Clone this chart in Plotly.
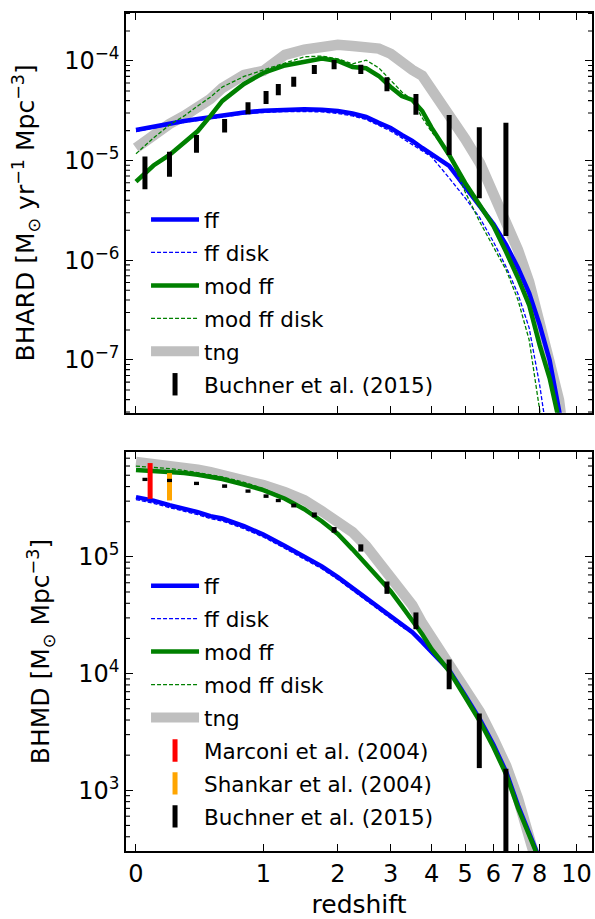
import plotly.graph_objects as go

# ---------------- data ----------------
# Black-hole accretion rate density, M_sun / yr / Mpc^3, versus redshift
z_ff_acc = [0, 0.1, 0.2, 0.3, 0.4, 0.5, 0.6, 0.8, 1.0, 1.25, 1.5, 1.75, 2.0, 2.25, 2.5,
            2.75, 3.0, 3.25, 3.5, 3.75, 4.0, 4.5, 5.0, 5.5, 6.0, 6.5, 7.0, 7.5, 8.0, 8.5,
            9.0, 9.2]
ff_acc = [2.03e-5, 2.20e-5, 2.36e-5, 2.50e-5, 2.62e-5, 2.74e-5, 2.84e-5, 3.04e-5, 3.17e-5,
          3.26e-5, 3.27e-5, 3.24e-5, 3.15e-5, 2.97e-5, 2.74e-5, 2.39e-5, 2.13e-5, 1.81e-5,
          1.58e-5, 1.34e-5, 1.17e-5, 8.85e-6, 5.44e-6, 3.51e-6, 2.31e-6, 1.43e-6, 8.38e-7,
          4.70e-7, 2.25e-7, 1.0e-7, 3.15e-8, 2.0e-8]

z_ffdisk_acc = [0, 0.1, 0.2, 0.3, 0.4, 0.5, 0.6, 0.8, 1.0, 1.25, 1.5, 1.75, 2.0, 2.25, 2.5,
                2.75, 3.0, 3.25, 3.5, 3.75, 4.0, 4.5, 5.0, 5.5, 6.0, 6.5, 7.0, 7.5, 8.0, 8.2,
                8.4]
ffdisk_acc = [1.96e-5, 2.13e-5, 2.28e-5, 2.42e-5, 2.53e-5, 2.65e-5, 2.74e-5, 2.94e-5, 3.04e-5,
              3.11e-5, 3.11e-5, 3.08e-5, 2.97e-5, 2.81e-5, 2.59e-5, 2.25e-5, 1.98e-5, 1.69e-5,
              1.44e-5, 1.25e-5, 1.09e-5, 6.70e-6, 4.22e-6, 2.66e-6, 1.53e-6, 8.57e-7, 4.59e-7,
              2.10e-7, 5.61e-8, 3.01e-8, 1.5e-8]

z_mod_acc = [0, 0.1, 0.2, 0.3, 0.4, 0.5, 0.6, 0.8, 1.0, 1.25, 1.5, 1.75, 2.0, 2.25, 2.5,
             2.75, 3.0, 3.25, 3.5, 3.75, 4.0, 4.5, 5.0, 5.5, 6.0, 6.5, 7.0, 7.5, 8.0, 8.5,
             8.9, 9.1]
mod_acc = [6.15e-6, 8.94e-6, 1.14e-5, 1.54e-5, 1.98e-5, 2.81e-5, 3.97e-5, 5.88e-5, 7.58e-5,
           9.01e-5, 9.89e-5, 1.06e-4, 1.00e-4, 8.71e-5, 8.45e-5, 7.07e-5, 5.48e-5, 4.45e-5,
           4.06e-5, 3.15e-5, 2.13e-5, 1.14e-5, 5.97e-6, 3.59e-6, 2.21e-6, 1.21e-6, 6.65e-7,
           3.56e-7, 1.41e-7, 6.60e-8, 3.01e-8, 1.5e-8]

z_moddisk_acc = [0, 0.1, 0.2, 0.3, 0.4, 0.5, 0.6, 0.8, 1.0, 1.25, 1.5, 1.75, 2.0, 2.25, 2.5,
                 2.75, 3.0, 3.25, 3.5, 3.75, 4.0, 4.5, 5.0, 5.5, 6.0, 6.5, 7.0, 7.5, 8.0, 8.2]
moddisk_acc = [1.17e-5, 1.69e-5, 2.28e-5, 2.81e-5, 3.54e-5, 4.35e-5, 5.48e-5, 6.99e-5, 8.12e-5,
               9.55e-5, 1.10e-4, 1.12e-4, 1.05e-4, 9.33e-5, 1.02e-4, 8.51e-5, 6.45e-5, 4.89e-5,
               4.06e-5, 2.68e-5, 1.94e-5, 1.17e-5, 4.85e-6, 2.42e-6, 1.36e-6, 8.0e-7, 4.0e-7,
               1.59e-7, 3.15e-8, 1.5e-8]

z_tng_acc = [0, 0.1, 0.2, 0.3, 0.4, 0.5, 0.6, 0.8, 1.0, 1.25, 1.5, 1.75, 2.0, 2.25, 2.5,
             2.75, 3.0, 3.25, 3.5, 3.75, 4.0, 4.5, 5.0, 5.5, 6.0, 6.5, 7.0, 7.5, 8.0, 8.5,
             9.0, 9.3]
tng_acc = [1.34e-5, 1.85e-5, 2.33e-5, 2.81e-5, 3.38e-5, 4.16e-5, 5.36e-5, 7.24e-5, 7.94e-5,
           1.15e-4, 1.30e-4, 1.40e-4, 1.45e-4, 1.41e-4, 1.39e-4, 1.33e-4, 1.18e-4, 9.55e-5,
           8.12e-5, 7.10e-5, 5.20e-5, 3.08e-5, 1.65e-5, 9.47e-6, 4.63e-6, 2.54e-6, 1.27e-6,
           6.06e-7, 2.52e-7, 9.55e-8, 3.97e-8, 1.5e-8]

# Buchner et al. (2015) ranges (shared redshift bins for both quantities)
z_buchner = [0.05, 0.2, 0.39, 0.62, 0.84, 1.03, 1.17, 1.36, 1.64, 1.94, 2.4, 2.92, 3.59,
             4.5, 5.48, 6.49]
buchner_acc_hi = [1.10e-5, 1.23e-5, 1.81e-5, 2.62e-5, 3.85e-5, 5.0e-5, 5.88e-5, 6.96e-5,
                  9.12e-5, 1.02e-4, 9.18e-5, 6.86e-5, 4.67e-5, 2.87e-5, 2.16e-5, 2.40e-5]
buchner_acc_lo = [5.16e-6, 6.91e-6, 1.20e-5, 1.91e-5, 2.92e-5, 3.70e-5, 4.53e-5, 5.52e-5,
                  7.41e-5, 8.26e-5, 7.41e-5, 4.97e-5, 2.89e-5, 1.14e-5, 4.19e-6, 1.75e-6]

# Black-hole mass density, M_sun / Mpc^3, versus redshift
z_md = [0, 0.1, 0.2, 0.3, 0.4, 0.5, 0.6, 0.8, 1.0, 1.25, 1.5, 1.75, 2.0, 2.25, 2.5, 2.75,
        3.0, 3.25, 3.5, 3.75, 4.0, 4.5, 5.0, 5.5, 6.0, 6.5, 7.0, 7.5, 7.85, 8.1]
ff_md = [3.25e5, 3.03e5, 2.77e5, 2.59e5, 2.42e5, 2.23e5, 2.13e5, 1.83e5, 1.55e5, 1.24e5,
         1.01e5, 8.3e4, 6.7e4, 5.4e4, 4.4e4, 3.6e4, 3.05e4, 2.60e4, 2.26e4, 1.86e4,
         1.52e4, 1.07e4, 6.5e3, 4.05e3, 2.45e3, 1.44e3, 740, 425, 300, 190]
ffdisk_md = [3.09e5, 2.88e5, 2.64e5, 2.46e5, 2.30e5, 2.12e5, 2.03e5, 1.74e5, 1.48e5, 1.18e5,
             9.6e4, 7.9e4, 6.4e4, 5.15e4, 4.2e4, 3.5e4, 2.96e4, 2.52e4, 2.20e4, 1.81e4,
             1.49e4, 1.05e4, 6.4e3, 4.0e3, 2.42e3, 1.42e3, 732, 421, 297, 188]
mod_md = [5.54e5, 5.46e5, 5.38e5, 5.22e5, 5.05e5, 4.82e5, 4.64e5, 4.16e5, 3.73e5, 3.15e5,
          2.56e5, 2.02e5, 1.57e5, 1.16e5, 8.66e4, 6.57e4, 5.08e4, 3.78e4, 2.87e4, 2.17e4,
          1.62e4, 1.05e4, 6.3e3, 3.9e3, 2.34e3, 1.37e3, 705, 409, 290, 170]
moddisk_md = [5.99e5, 5.87e5, 5.70e5, 5.50e5, 5.28e5, 5.05e5, 4.85e5, 4.35e5, 3.85e5, 3.20e5,
              2.60e5, 2.04e5, 1.58e5, 1.16e5, 8.70e4, 6.60e4, 5.10e4, 3.80e4, 2.88e4, 2.16e4,
              1.61e4, 1.04e4, 6.3e3, 3.9e3, 2.33e3, 1.36e3, 700, 405, 288, 168]
tng_md = [6.49e5, 6.30e5, 6.11e5, 5.87e5, 5.59e5, 5.32e5, 5.07e5, 4.64e5, 4.12e5, 3.59e5,
          3.06e5, 2.46e5, 2.02e5, 1.63e5, 1.24e5, 9.01e4, 6.97e4, 5.18e4, 3.85e4, 2.70e4,
          2.03e4, 1.18e4, 7.35e3, 4.69e3, 2.76e3, 1.62e3, 847, 434, 300, 170]

buchner_md_hi = [4.76e5, 4.66e5, 4.40e5, 4.18e5, 3.78e5, 3.43e5, 3.14e5, 2.86e5, 2.40e5,
                 1.80e5, 1.28e5, 6.15e4, 3.34e4, 1.32e4, 4.55e3, 1.53e3]
buchner_md_lo = [4.46e5, 4.37e5, 4.12e5, 3.90e5, 3.54e5, 3.20e5, 2.94e5, 2.65e5, 2.18e5,
                 1.61e5, 1.11e5, 4.82e4, 2.40e4, 7.34e3, 1.55e3, 1.0e2]

z_marconi = [0.08]
marconi_lo = [3.14e5]
marconi_hi = [6.36e5]
z_shankar = [0.2]
shankar_lo = [3.04e5]
shankar_hi = [5.22e5]

# redshift ticks on a log(1+z) axis
z_ticks = [0, 1, 2, 3, 4, 5, 6, 7, 8, 10]
z_ticklabels = ["0", "1", "2", "3", "4", "5", "6", "7", "8", "10"]

# decade ticks of the two density axes
acc_exponents = [-7, -6, -5, -4]
md_exponents = [3, 4, 5]

# ---------------- style ----------------
FONT = "DejaVu Sans"
BLUE, GREEN, GREY = "#0000ff", "#008000", "#bfbfbf"
W_THICK, W_THIN, W_TNG, W_BAR = 4.5, 1.3, 10.5, 5
DASH = "4px,2px"

ACC_RANGE = [-7.529, -3.519]
MD_RANGE = [2.480, 5.898]
Z_RANGE = [-0.0236, 1.078]
PLOT_W = 595 - 126 - 3          # width of the plotting area in px
MINOR_LEN = 4.0                 # length of the intermediate log ticks in px


def onepz(zs):
    return [1.0 + z for z in zs]


def bar_segments(zs, lo, hi):
    xs, ys = [], []
    for z, a, b in zip(zs, lo, hi):
        xs += [1.0 + z, 1.0 + z, None]
        ys += [a, b, None]
    return xs, ys


def decade_ticks(exps):
    vals = [10.0 ** e for e in exps]
    text = ["10<sup>%s</sup>" % (str(e).replace("-", "\u2212")) for e in exps]
    return vals, text


def log_minor_ticks(lo_exp, hi_exp, rng):
    import math
    out = []
    for e in range(lo_exp, hi_exp + 1):
        for m in range(2, 10):
            v = m * 10.0 ** e
            if rng[0] < math.log10(v) < rng[1]:
                out.append(v)
    return out


fig = go.Figure()


def add_line(zs, vals, name, color, width, dash, rank, xa, ya, leg):
    fig.add_trace(go.Scatter(
        x=onepz(zs), y=vals, mode="lines", name=name,
        line=dict(color=color, width=width, dash=dash),
        xaxis=xa, yaxis=ya, legend=leg, legendgroup=leg + name,
        legendrank=rank, hoverinfo="skip"))


def add_bars(zs, lo, hi, name, color, rank, xa, ya, leg):
    xs, ys = bar_segments(zs, lo, hi)
    fig.add_trace(go.Scatter(
        x=xs, y=ys, mode="lines", line=dict(color=color, width=W_BAR),
        xaxis=xa, yaxis=ya, showlegend=False, legendgroup=leg + name,
        hoverinfo="skip"))
    # legend key: a short vertical bar
    fig.add_trace(go.Scatter(
        x=[None], y=[None], mode="markers", name=name,
        marker=dict(symbol="line-ns", size=16, color=color,
                    line=dict(color=color, width=W_BAR)),
        xaxis=xa, yaxis=ya, legend=leg, legendgroup=leg + name,
        legendrank=rank))


def add_minor_ticks(xref, yref, vals):
    # short inward ticks on both vertical frame edges
    f = MINOR_LEN / PLOT_W
    for v in vals:
        for x0, x1 in ((0.0, f), (1.0 - f, 1.0)):
            fig.add_shape(type="line", xref=xref + " domain", yref=yref,
                          x0=x0, x1=x1, y0=v, y1=v, layer="above",
                          line=dict(color="black", width=1.1))


# top panel: accretion rate density
add_line(z_tng_acc, tng_acc, "tng", GREY, W_TNG, "solid", 5, "x", "y", "legend")
add_line(z_ff_acc, ff_acc, "ff", BLUE, W_THICK, "solid", 1, "x", "y", "legend")
add_line(z_ffdisk_acc, ffdisk_acc, "ff disk", BLUE, W_THIN, DASH, 2, "x", "y", "legend")
add_line(z_mod_acc, mod_acc, "mod ff", GREEN, W_THICK, "solid", 3, "x", "y", "legend")
add_line(z_moddisk_acc, moddisk_acc, "mod ff disk", GREEN, W_THIN, DASH, 4, "x", "y", "legend")
add_bars(z_buchner, buchner_acc_lo, buchner_acc_hi, "Buchner et al. (2015)", "black", 8,
         "x", "y", "legend")

# bottom panel: mass density
add_line(z_md, tng_md, "tng", GREY, W_TNG, "solid", 5, "x2", "y2", "legend2")
add_line(z_md, ff_md, "ff", BLUE, W_THICK, "solid", 1, "x2", "y2", "legend2")
add_line(z_md, ffdisk_md, "ff disk", BLUE, W_THIN, DASH, 2, "x2", "y2", "legend2")
add_line(z_md, mod_md, "mod ff", GREEN, W_THICK, "solid", 3, "x2", "y2", "legend2")
add_line(z_md, moddisk_md, "mod ff disk", GREEN, W_THIN, DASH, 4, "x2", "y2", "legend2")
add_bars(z_marconi, marconi_lo, marconi_hi, "Marconi et al. (2004)", "#ff0000", 6,
         "x2", "y2", "legend2")
add_bars(z_shankar, shankar_lo, shankar_hi, "Shankar et al. (2004)", "#ffa500", 7,
         "x2", "y2", "legend2")
add_bars(z_buchner, buchner_md_lo, buchner_md_hi, "Buchner et al. (2015)", "black", 8,
         "x2", "y2", "legend2")

add_minor_ticks("x", "y", log_minor_ticks(-8, -4, ACC_RANGE))
add_minor_ticks("x2", "y2", log_minor_ticks(2, 5, MD_RANGE))

# ---------------- axes ----------------
frame = dict(showline=True, linecolor="black", linewidth=1.5, mirror="allticks",
             ticks="inside", ticklen=7, tickwidth=1.3, tickcolor="black",
             showgrid=False, zeroline=False, automargin=False,
             tickfont=dict(family=FONT, size=24, color="black"))


def yspec(exps):
    vals, text = decade_ticks(exps)
    return dict(type="log", tickmode="array", tickvals=vals, ticktext=text)


xspec = dict(type="log", range=Z_RANGE, tickmode="array",
             tickvals=onepz(z_ticks), ticktext=z_ticklabels)
legend_spec = dict(xanchor="left", yanchor="top", bgcolor="rgba(0,0,0,0)", borderwidth=0,
                   traceorder="grouped", tracegroupgap=2, itemwidth=48,
                   font=dict(family=FONT, size=21.5, color="black"))
title_font = dict(family=FONT, size=25, color="black")

fig.update_layout(
    width=595, height=919,
    margin=dict(l=126, r=3, t=13, b=68),
    paper_bgcolor="white", plot_bgcolor="white",
    font=dict(family=FONT, color="black"),
    showlegend=True,
    xaxis=dict(**frame, **xspec, anchor="y", showticklabels=False),
    yaxis=dict(**frame, **yspec(acc_exponents), domain=[0.523, 1.0],
               range=ACC_RANGE, anchor="x",
               title=dict(text="BHARD [M<sub>⊙</sub> yr<sup>−1</sup> Mpc<sup>−3</sup>]",
                          font=title_font, standoff=22)),
    xaxis2=dict(**frame, **xspec, anchor="y2", matches="x",
                title=dict(text="redshift", font=title_font, standoff=12)),
    yaxis2=dict(**frame, **yspec(md_exponents), domain=[0.0, 0.4761],
                range=MD_RANGE, anchor="x2",
                title=dict(text="BHMD [M<sub>⊙</sub> Mpc<sup>−3</sup>]",
                           font=title_font, standoff=21)),
    legend=dict(x=0.043, y=0.778, **legend_spec),
    legend2=dict(x=0.043, y=0.341, **legend_spec),
)

fig.write_html("out.html")
